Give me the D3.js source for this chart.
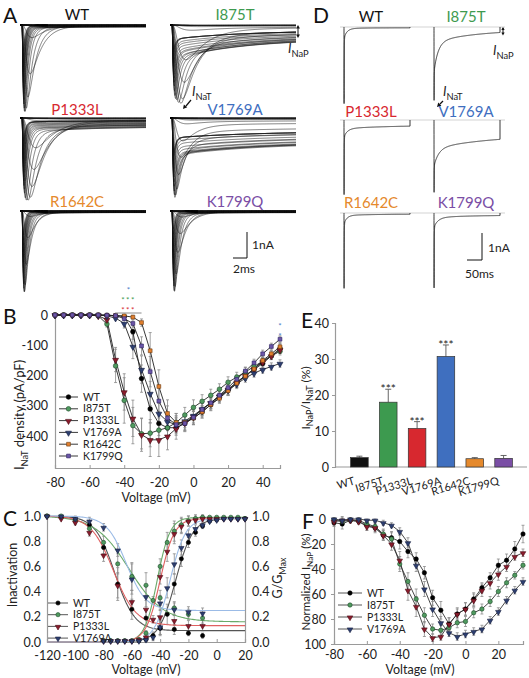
<!DOCTYPE html>
<html>
<head>
<meta charset="utf-8">
<script src="https://cdn.jsdelivr.net/npm/d3@7/dist/d3.min.js"></script>
<style>
body{margin:0;background:#fff;}
svg text{font-family:"Lato","Open Sans",sans-serif;}
</style>
</head>
<body>
<svg id="fig" width="529" height="678" xmlns="http://www.w3.org/2000/svg"></svg>
<script>
// ================= DATA =================
const mutants = ["WT","I875T","P1333L","V1769A","R1642C","K1799Q"];

// ---- Panel B : I_NaT density (pA/pF) vs voltage ----
const voltagesB = [-80,-75,-70,-65,-60,-55,-50,-45,-40,-35,-30,-25,-20,-15,-10,-5,0,5,10,15,20,25,30,35,40,45,50];
const densWT     = [0,0,0,0,0,0,-1,-2,-5,-55,-210,-310,-358,-372,-372,-358,-340,-320,-296,-272,-248,-222,-200,-180,-160,-135,-110];
const densI875T  = [0,0,0,0,0,-3,-30,-168,-282,-365,-392,-390,-380,-372,-355,-330,-305,-285,-265,-245,-222,-205,-188,-170,-152,-135,-120];
const densP1333L = [0,0,0,0,0,-3,-15,-147,-254,-341,-395,-412,-412,-400,-375,-355,-335,-312,-290,-268,-245,-222,-200,-178,-155,-135,-115];
const densV1769A = [0,0,0,0,0,0,-3,-10,-28,-104,-180,-259,-325,-352,-362,-350,-332,-310,-290,-268,-248,-228,-208,-192,-180,-170,-160];
const densR1642C = [0,0,0,0,0,0,-1,-2,-3,-7,-25,-118,-236,-325,-355,-355,-340,-320,-296,-275,-250,-225,-202,-178,-150,-128,-105];
const densK1799Q = [0,0,0,0,0,0,-1,-2,-12,-28,-102,-187,-284,-340,-362,-358,-338,-312,-290,-265,-240,-212,-185,-158,-128,-104,-80];
const semWT      = [2,2,2,2,2,2,2,3,6,25,45,45,40,30,25,22,22,20,20,18,18,16,15,14,13,12,12];
const semI875T   = [2,2,2,2,2,3,10,55,75,60,50,45,40,35,30,25,25,22,20,18,18,16,15,14,13,12,12];
const semP1333L  = [2,2,2,2,2,3,8,40,60,60,55,55,55,45,35,30,25,22,20,18,18,16,15,14,13,12,12];
const semV1769A  = [2,2,2,2,2,2,3,6,15,40,45,40,35,30,25,22,22,20,18,18,16,15,14,13,12,12,12];
const semR1642C  = [2,2,2,2,2,2,2,3,4,6,12,60,55,45,30,25,22,20,18,16,15,14,13,12,12,11,11];
const semK1799Q  = [2,2,2,2,2,2,2,3,6,12,30,50,50,40,30,25,22,20,18,16,15,14,13,12,12,11,11];
const ticksBx = [-80,-60,-40,-20,0,20,40];
const ticksBy = [0,-100,-200,-300,-400];

// ---- Panel C : steady-state inactivation and activation ----
const inactV = [-120,-110,-100,-90,-80,-70,-60,-50,-40,-30,-20,-10];
const inactWT     = [1.0,0.99,0.97,0.93,0.75,0.46,0.26,0.19,0.11,0.10,0.07,0.05];
const inactI875T  = [1.0,1.0,0.96,0.90,0.79,0.62,0.52,0.45,0.35,0.27,0.22,0.19];
const inactP1333L = [1.0,0.98,0.95,0.87,0.69,0.45,0.32,0.26,0.20,0.17,0.13,0.13];
const inactV1769A = [1.0,1.0,0.98,0.96,0.91,0.73,0.50,0.36,0.31,0.26,0.24,0.23];
const inactSemWT     = [0,0.01,0.02,0.03,0.05,0.13,0.08,0.06,0.05,0.04,0.02,0.02];
const inactSemI875T  = [0,0.01,0.02,0.03,0.05,0.08,0.11,0.10,0.06,0.05,0.04,0.04];
const inactSemP1333L = [0,0.01,0.02,0.03,0.05,0.10,0.09,0.07,0.06,0.04,0.04,0.04];
const inactSemV1769A = [0,0.01,0.02,0.03,0.03,0.05,0.12,0.08,0.06,0.05,0.04,0.04];
const actV = [-80,-75,-70,-65,-60,-55,-50,-45,-40,-35,-30,-25,-20,-15,-10,-5,0,5,10,15,20];
const actWT     = [0.01,0.01,0.01,0.01,0.01,0.01,0.02,0.05,0.11,0.22,0.46,0.66,0.79,0.87,0.92,0.96,0.97,0.98,0.98,0.98,0.98];
const actI875T  = [0.01,0.01,0.01,0.01,0.01,0.02,0.07,0.33,0.60,0.79,0.88,0.93,0.96,0.98,0.99,0.99,0.99,0.99,0.99,0.99,0.98];
const actP1333L = [0.01,0.01,0.01,0.01,0.01,0.02,0.04,0.18,0.52,0.72,0.86,0.92,0.96,0.97,0.98,0.98,0.98,0.98,0.98,0.98,0.98];
const actV1769A = [0.01,0.01,0.01,0.01,0.01,0.01,0.02,0.04,0.12,0.43,0.62,0.75,0.85,0.90,0.93,0.96,0.97,0.98,0.98,0.98,0.98];
const actSem    = [0,0,0,0,0,0.01,0.02,0.03,0.06,0.08,0.08,0.06,0.04,0.03,0.02,0.01,0.01,0.01,0.01,0.01,0.01];
// Boltzmann fit parameters (WT, I875T, P1333L, V1769A)
const inactFitVhalf = [-72,-62,-73,-64];
const inactFitSlope = [7,12,8,7];
const inactFitPlateau = [0.09,0.16,0.13,0.25];
const actFitVhalf = [-29,-42,-40,-33];
const actFitSlope = [6,4.5,5,5.5];
const actFitTop = [0.98,0.99,0.98,0.98];
const ticksCx = [-120,-100,-80,-60,-40,-20,0,20];
const ticksCy = [0,0.2,0.4,0.6,0.8,1.0];

// ---- Panel E : I_NaP / I_NaT (%) ----
const ratioE = [2.6,18.0,10.7,30.7,2.3,2.4];
const semE   = [0.4,3.6,1.9,3.2,0.3,0.8];
const sigE   = ["","***","***","***","",""];
const ticksEy = [0,10,20,30,40];

// ---- Panel F : normalized I_NaP (%) vs voltage ----
const voltagesF = [-80,-75,-70,-65,-60,-55,-50,-45,-40,-35,-30,-25,-20,-15,-10,-5,0,5,10,15,20,25,30,35];
const fWT     = [3,4,1,2,5,7,13,15,18,26,32,43,63,73,84,76,72,64,55,47,37,33,24,12];
const fI875T  = [1,2,1,1,4,6,12,16,36,50,64,77,88,89,87,83,82,75,72,66,58,51,45,37];
const fP1333L = [2,1,1,2,6,7,13,20,33,57,70,88,95,94,84,76,72,65,57,51,44,38,30,27];
const fV1769A = [0,1,0,0,1,1,3,5,10,19,37,56,72,83,91,94,92,90,88,81,74,65,57,50];
const fSemWT     = [3,4,2,2,4,4,4,5,6,5,5,5,6,7,5,4,5,5,4,4,5,5,6,7];
const fSemI875T  = [2,3,2,2,3,3,4,5,6,7,8,6,4,4,4,4,4,4,4,4,4,4,3,3];
const fSemP1333L = [3,3,2,2,3,3,4,5,7,8,8,6,3,3,5,5,5,5,5,5,5,4,3,3];
const fSemV1769A = [1,1,1,1,1,1,2,2,3,4,5,6,6,5,3,3,3,3,3,3,3,3,3,3];
const ticksFx = [-80,-60,-40,-20,0,20];
const ticksFy = [0,20,40,60,80,100];

// ---- Panel A : current families (kinetic parameters per test voltage of panel B) ----
const cellCapPF = [9.0,8.4,8.0,9.2,8.8,8.6];
const tauMms = [1,1,1,1,1,1,0.9,0.8,0.7,0.6,0.5,0.35,0.25,0.18,0.14,0.12,0.10,0.09,0.085,0.08,0.075,0.07,0.068,0.065,0.062,0.06,0.058];
const tauHms = [3.5,3.5,3.5,3.5,3.5,3.5,3.0,2.6,2.2,1.8,1.5,1.1,0.8,0.6,0.5,0.45,0.4,0.38,0.36,0.34,0.32,0.31,0.3,0.29,0.28,0.27,0.26];
const aSlowGain = [0.6,1.5,0.6,0.5,0.6,0.6];
const aSlowTau  = [6,10,10,12,6,6];

// ---- Panel D : single long sweeps (nA, ms) ----
const dPeak    = [2.9,2.9,2.85,2.85,2.85,2.85];
const dFastAmp = [0.35,1.1,0.3,0.65,0.3,0.35];
const dFastTau = [10,14,12,16,10,14];
const dSlowAmp = [0.03,0.45,0.12,0.5,0.05,0.09];
const dSlowTau = [60,150,150,200,100,120];
const dPersist = [0.03,0.10,0.20,0.55,0.04,0.08];

// ================= STYLE =================
const titleColor = {WT:"#111", I875T:"#3d9a4f", P1333L:"#d7282f", V1769A:"#3f6fbf", R1642C:"#e5892c", K1799Q:"#7a4ea5"};
const markerStyle = {
  WT:     {shape:"circle", fill:"#000",    stroke:"#000"},
  I875T:  {shape:"circle", fill:"#4f9a5f", stroke:"#1f4a2a"},
  P1333L: {shape:"tri",    fill:"#8a1c2c", stroke:"#4a0a14"},
  V1769A: {shape:"tri",    fill:"#2d3f70", stroke:"#151f40"},
  R1642C: {shape:"square", fill:"#e27f2e", stroke:"#6a3a10"},
  K1799Q: {shape:"square", fill:"#6b56a8", stroke:"#2a2060"}
};
const barColor = ["#111","#3d9a4f","#d7282f","#3f6fbf","#e5892c","#7a4ea5"];
const fitColor = ["#555","#6aaa6a","#e06060","#9bbbe6"];
const axisColor = "#9a9a9a", errColor = "#8a8a8a";

const svg = d3.select("#fig");
const fmtInt = d => String(d);
const fmt1 = d => d.toFixed(1);

function marker(g, name, x, y, s) {
  const st = markerStyle[name];
  const size = s || 18;
  let p;
  if (st.shape === "circle") p = g.append("circle").attr("cx", x).attr("cy", y).attr("r", Math.sqrt(size/Math.PI));
  else if (st.shape === "square") p = g.append("path").attr("d", d3.symbol(d3.symbolSquare, size*0.85)()).attr("transform", `translate(${x},${y})`);
  else p = g.append("path").attr("d", d3.symbol(d3.symbolTriangle, size*0.9)()).attr("transform", `translate(${x},${y+0.5}) rotate(180)`);
  p.attr("fill", st.fill).attr("stroke", st.stroke).attr("stroke-width", 0.6);
}
function styleAxis(sel, fs) {
  sel.select(".domain").attr("stroke", axisColor).attr("stroke-width", 1.2);
  sel.selectAll(".tick line").attr("stroke", axisColor).attr("stroke-width", 1);
  sel.selectAll(".tick text").attr("fill", "#222").attr("font-size", fs || 12).attr("font-family", "Lato, 'Open Sans', sans-serif");
}
function errBar(g, x, y1, y2, cap) {
  g.append("line").attr("x1", x).attr("x2", x).attr("y1", y1).attr("y2", y2).attr("stroke", errColor).attr("stroke-width", 0.8);
  [y1, y2].forEach(y => g.append("line").attr("x1", x-cap).attr("x2", x+cap).attr("y1", y).attr("y2", y).attr("stroke", errColor).attr("stroke-width", 0.8));
}
function panelLetter(t, x, y) {
  svg.append("text").attr("x", x).attr("y", y).attr("font-size", 21).attr("fill", "#111").text(t);
}
function subText(g, x, y, main, sub, rest, fs, opts) {
  const t = g.append("text").attr("x", x).attr("y", y).attr("font-size", fs).attr("fill", "#222");
  if (opts && opts.transform) t.attr("transform", opts.transform).attr("x", 0).attr("y", 0);
  if (opts && opts.anchor) t.attr("text-anchor", opts.anchor);
  t.append("tspan").text(main).attr("font-style", opts && opts.italic ? "italic" : null);
  t.append("tspan").text(sub).attr("font-size", fs*0.72).attr("dy", fs*0.28);
  if (rest) t.append("tspan").text(rest).attr("dy", -fs*0.28);
  return t;
}
function arrowHead(g, x, y, ang, sz) {
  const s = sz || 4;
  g.append("path").attr("d", `M0,0 L${-s},${-s*0.55} L${-s},${s*0.55} Z`)
    .attr("transform", `translate(${x},${y}) rotate(${ang})`).attr("fill", "#111");
}
// stacked significance marks drawn as one text element with coloured lines
function starStack(g, x, yTop, lines, step, fs) {
  const t = g.append("text").attr("x", x).attr("y", yTop).attr("text-anchor", "middle").attr("font-size", fs);
  lines.forEach((l, i) => t.append("tspan").attr("x", x).attr("dy", i === 0 ? 0 : step)
    .attr("fill", l.color).attr("letter-spacing", l.text.length > 1 ? 1.5 : 0).text(l.text));
}

// ================= PANEL A =================
panelLetter("A", 3, 23);
const gA = svg.append("g");
const seriesDens = [densWT, densI875T, densP1333L, densV1769A, densR1642C, densK1799Q];
const seriesF = [fWT, fI875T, fP1333L, fV1769A, fWT, fWT];
const tOn = 0.3;
const timesA = d3.range(0, 4, 0.02).concat(d3.range(4, 18.001, 0.1));
const aCols = [20, 170], aRows = [25, 118, 211];
const aTitleX = [77, 235], aTitleY = [20, 115, 207];
mutants.forEach((m, mi) => {
  const x0 = aCols[mi % 2], y0 = aRows[Math.floor(mi / 2)];
  const xA = d3.scaleLinear().domain([0, 18]).range([x0, x0 + 126]);
  const yA = d3.scaleLinear().domain([0, -1]).range([y0, y0 + 26]);
  const dens = seriesDens[mi];
  const maxAmp = d3.max(dens, d => -d) * cellCapPF[mi] / 1000;
  const line = d3.line().x(d => xA(d[0])).y(d => yA(d[1]));
  voltagesB.forEach((v, vi) => {
    const amp = -dens[vi] * cellCapPF[mi] / 1000;
    const fi = Math.min(voltagesF.indexOf(Math.min(v, 35)), voltagesF.length - 1);
    const fFrac = seriesF[mi][fi] / 100;
    const ip = Math.min(ratioE[mi] / 100 * maxAmp * fFrac, amp * 0.9 + 0.01);
    const is = ip * aSlowGain[mi];
    const trans = Math.max(amp - ip - is, 0);
    const tm = tauMms[vi], th = tauHms[vi];
    const gate = tt => tt <= 0 ? 0 : Math.pow(1 - Math.exp(-tt / tm), 3);
    const norm = d3.max(timesA, t => gate(t - tOn) * Math.exp(-(t - tOn) / th)) || 1;
    const pts = timesA.map(t => {
      const tt = t - tOn;
      if (tt <= 0) return [t, 0];
      const mg = gate(tt);
      return [t, -(trans * mg * Math.exp(-tt / th) / norm + mg * (is * Math.exp(-tt / aSlowTau[mi]) + ip))];
    });
    gA.append("path").attr("d", line(pts)).attr("fill", "none").attr("stroke", "#111").attr("stroke-width", 0.6).attr("stroke-opacity", 0.9);
  });
  svg.append("text").attr("x", aTitleX[mi % 2]).attr("y", aTitleY[Math.floor(mi / 2)]).attr("text-anchor", "middle")
    .attr("font-size", 15).attr("fill", titleColor[m]).text(m);
  if (mi === 5) {
    const xs = d3.scaleLinear().domain([0, 18]).range([0, 126]);
    const ys = d3.scaleLinear().domain([0, 1]).range([0, 26]);
    const bx = 247, by = 258;
    gA.append("path").attr("d", `M${bx - xs(2)},${by} H${bx} V${by - ys(1)}`).attr("fill", "none").attr("stroke", "#111").attr("stroke-width", 1);
    gA.append("text").attr("x", bx + 5).attr("y", by - 9).attr("font-size", 12).attr("fill", "#222").text("1nA");
    gA.append("text").attr("x", bx - xs(2)).attr("y", by + 15).attr("font-size", 12).attr("fill", "#222").text("2ms");
  }
});
// annotations in A
subText(gA, 192, 96, "I", "NaT", null, 13, {italic: true});
gA.append("line").attr("x1", 191).attr("y1", 100).attr("x2", 186).attr("y2", 106).attr("stroke", "#111").attr("stroke-width", 1.2);
arrowHead(gA, 183, 109, 130, 4);
gA.append("line").attr("x1", 298).attr("x2", 298).attr("y1", 27).attr("y2", 36).attr("stroke", "#111").attr("stroke-width", 1);
arrowHead(gA, 298, 25, -90, 3.5); arrowHead(gA, 298, 38, 90, 3.5);
subText(gA, 288, 53, "I", "NaP", null, 13, {italic: true});

// ================= PANEL D =================
panelLetter("D", 313, 23);
const gD = svg.append("g");
const timesD = d3.range(0, 3, 0.01).concat(d3.range(3, 220, 0.5)).concat([220]);
const dCols = [344, 434], dRows = [27, 120, 213];
const dTitleX = [371, 466], dTitleY = [22, 117, 208];
dRows.forEach(y0 => gD.append("line").attr("x1", 340).attr("x2", 505).attr("y1", y0).attr("y2", y0).attr("stroke", "#c8c8c8").attr("stroke-width", 0.8));
mutants.forEach((m, mi) => {
  const x0 = dCols[mi % 2], y0 = dRows[Math.floor(mi / 2)];
  const xD = d3.scaleLinear().domain([0, 220]).range([x0, x0 + 66]);
  const yD = d3.scaleLinear().domain([0, -1]).range([y0, y0 + 27]);
  const tm = 0.08, th = 0.5;
  const gate = t => Math.pow(1 - Math.exp(-t / tm), 3);
  const norm = d3.max(timesD, t => gate(t) * Math.exp(-t / th));
  const trans = dPeak[mi] - dFastAmp[mi] - dSlowAmp[mi] - dPersist[mi];
  const pts = timesD.map(t => {
    const g = gate(t);
    return [t, -(trans * g * Math.exp(-t / th) / norm + g * (dFastAmp[mi] * Math.exp(-t / dFastTau[mi]) + dSlowAmp[mi] * Math.exp(-t / dSlowTau[mi]) + dPersist[mi]))];
  });
  pts.push([220, 0]);
  gD.append("path").attr("d", d3.line().x(d => xD(d[0])).y(d => yD(d[1]))(pts)).attr("fill", "none").attr("stroke", "#222").attr("stroke-width", 0.9);
  svg.append("text").attr("x", dTitleX[mi % 2]).attr("y", dTitleY[Math.floor(mi / 2)]).attr("text-anchor", "middle")
    .attr("font-size", 15).attr("fill", titleColor[m]).text(m);
  if (mi === 5) {
    const xs = d3.scaleLinear().domain([0, 220]).range([0, 66]);
    const ys = d3.scaleLinear().domain([0, 1]).range([0, 27]);
    const bx = 482, by = 260;
    gD.append("path").attr("d", `M${bx - xs(50)},${by} H${bx} V${by - ys(1)}`).attr("fill", "none").attr("stroke", "#111").attr("stroke-width", 1);
    gD.append("text").attr("x", bx + 6).attr("y", by - 8).attr("font-size", 12).attr("fill", "#222").text("1nA");
    gD.append("text").attr("x", bx - xs(50) - 2).attr("y", by + 18).attr("font-size", 12).attr("fill", "#222").text("50ms");
  }
});
subText(gD, 443, 96, "I", "NaT", null, 13, {italic: true});
gD.append("line").attr("x1", 443).attr("y1", 101).attr("x2", 440).attr("y2", 104).attr("stroke", "#111").attr("stroke-width", 1.2);
arrowHead(gD, 437, 107, 135, 4);
gD.append("line").attr("x1", 503).attr("x2", 503).attr("y1", 28).attr("y2", 34).attr("stroke", "#111").attr("stroke-width", 1);
arrowHead(gD, 503, 27, -90, 3); arrowHead(gD, 503, 35.5, 90, 3);
subText(gD, 493, 55, "I", "NaP", null, 13, {italic: true});

// ================= PANEL B =================
panelLetter("B", 3, 324);
const gB = svg.append("g");
const xB = d3.scaleLinear().domain([-80, 50]).range([55, 280]);
const yB = d3.scaleLinear().domain([-505, 0]).range([468, 315]);
gB.append("g").attr("transform", "translate(0,468)")
  .call(d3.axisBottom(xB).tickValues(ticksBx).tickSize(-3).tickPadding(10.5).tickFormat(fmtInt))
  .call(s => styleAxis(s, 12.5));
gB.append("g").attr("transform", "translate(55,0)")
  .call(d3.axisLeft(yB).tickValues(ticksBy).tickSize(0).tickPadding(7).tickFormat(fmtInt))
  .call(s => styleAxis(s, 12.5));
gB.append("text").attr("x", 156).attr("y", 502).attr("text-anchor", "middle").attr("font-size", 12.5).attr("fill", "#222").text("Voltage (mV)");
subText(gB, 0, 0, "I", "NaT", " density (pA/pF)", 13, {transform: "translate(24,415) rotate(-90)", anchor: "middle"});
const seriesB = mutants.map((m, i) => ({name: m, vals: seriesDens[i], sem: [semWT, semI875T, semP1333L, semV1769A, semR1642C, semK1799Q][i]}));
seriesB.forEach(s => s.vals.forEach((v, i) => { if (s.sem[i] > 3) errBar(gB, xB(voltagesB[i]), yB(v - s.sem[i]), yB(v + s.sem[i]), 1.5); }));
seriesB.forEach(s => {
  gB.append("path").attr("d", d3.line().x((d, i) => xB(voltagesB[i])).y(d => yB(d))(s.vals))
    .attr("fill", "none").attr("stroke", "#222").attr("stroke-width", 0.9);
});
seriesB.forEach(s => s.vals.forEach((v, i) => marker(gB, s.name, xB(voltagesB[i]), yB(v), 17)));
// significance
gB.append("line").attr("x1", xB(-45)).attr("x2", xB(-30)).attr("y1", 313).attr("y2", 313).attr("stroke", "#8a8a8a").attr("stroke-width", 1);
starStack(gB, xB(-37.5), 293, [{text:"*", color:"#4a7cc8"}, {text:"***", color:"#3d9a4f"}, {text:"***", color:"#d7282f"}], 10, 8);
starStack(gB, xB(50), 329, [{text:"*", color:"#4a7cc8"}, {text:"*", color:"#4a7cc8"}], 10, 8);
// legend
mutants.forEach((m, i) => {
  const y = 397 + i * 11.8;
  gB.append("line").attr("x1", 59).attr("x2", 78).attr("y1", y).attr("y2", y).attr("stroke", "#222").attr("stroke-width", 0.9);
  marker(gB, m, 68.5, y, 17);
  gB.append("text").attr("x", 83).attr("y", y).attr("dy", "0.35em").attr("font-size", 10.5).attr("fill", "#222").text(m);
});

// ================= PANEL C =================
panelLetter("C", 3, 526);
const gC = svg.append("g");
const xC = d3.scaleLinear().domain([-120, 20]).range([47, 245]);
const yC = d3.scaleLinear().domain([0, 1]).range([642, 516]);
gC.append("g").attr("transform", "translate(0,642)")
  .call(d3.axisBottom(xC).tickValues(ticksCx).tickSize(-3).tickPadding(9).tickFormat(fmtInt))
  .call(s => styleAxis(s, 12.5));
gC.append("g").attr("transform", "translate(47,0)")
  .call(d3.axisLeft(yC).tickValues(ticksCy).tickSize(0).tickPadding(6).tickFormat(fmt1))
  .call(s => styleAxis(s, 12.5));
gC.append("g").attr("transform", "translate(245,0)")
  .call(d3.axisRight(yC).tickValues(ticksCy).tickSize(0).tickPadding(7).tickFormat(fmt1))
  .call(s => styleAxis(s, 12.5));
gC.append("text").attr("x", 146).attr("y", 674).attr("text-anchor", "middle").attr("font-size", 12.5).attr("fill", "#222").text("Voltage (mV)");
gC.append("text").attr("transform", "translate(17,575) rotate(-90)").attr("text-anchor", "middle").attr("font-size", 12.5).attr("fill", "#222").text("Inactivation");
subText(gC, 0, 0, "G/G", "Max", null, 12.5, {transform: "translate(282,578) rotate(-90)", anchor: "middle"});
const cNames = ["WT", "I875T", "P1333L", "V1769A"];
const inactSeries = [inactWT, inactI875T, inactP1333L, inactV1769A];
const inactSems = [inactSemWT, inactSemI875T, inactSemP1333L, inactSemV1769A];
const actSeries = [actWT, actI875T, actP1333L, actV1769A];
const fitGrid = d3.range(-120, 20.5, 1);
cNames.forEach((m, i) => {
  inactSeries[i].forEach((v, j) => { if (inactSems[i][j] > 0.015) errBar(gC, xC(inactV[j]), yC(v - inactSems[i][j]), yC(v + inactSems[i][j]), 1.5); });
  actSeries[i].forEach((v, j) => { if (actSem[j] > 0.015) errBar(gC, xC(actV[j]), yC(v - actSem[j]), yC(v + actSem[j]), 1.5); });
});
cNames.forEach((m, i) => {
  const inactFit = v => inactFitPlateau[i] + (1 - inactFitPlateau[i]) / (1 + Math.exp((v - inactFitVhalf[i]) / inactFitSlope[i]));
  const actFit = v => actFitTop[i] / (1 + Math.exp((actFitVhalf[i] - v) / actFitSlope[i]));
  gC.append("path").attr("d", d3.line().x(v => xC(v)).y(v => yC(inactFit(v)))(fitGrid)).attr("fill", "none").attr("stroke", fitColor[i]).attr("stroke-width", 1.1);
  gC.append("path").attr("d", d3.line().x(v => xC(v)).y(v => yC(actFit(v)))(fitGrid)).attr("fill", "none").attr("stroke", fitColor[i]).attr("stroke-width", 1.1);
});
cNames.forEach((m, i) => {
  inactSeries[i].forEach((v, j) => marker(gC, m, xC(inactV[j]), yC(v), 14));
  actSeries[i].forEach((v, j) => marker(gC, m, xC(actV[j]), yC(v), 14));
});
cNames.forEach((m, i) => {
  const y = 603 + i * 11.7;
  gC.append("line").attr("x1", 48).attr("x2", 68).attr("y1", y).attr("y2", y).attr("stroke", "#444").attr("stroke-width", 0.9);
  marker(gC, m, 58, y, 14);
  gC.append("text").attr("x", 73).attr("y", y).attr("dy", "0.35em").attr("font-size", 10.5).attr("fill", "#222").text(m);
});

// ================= PANEL E =================
panelLetter("E", 301, 328);
const gE = svg.append("g");
const xE = d3.scaleBand().domain(mutants).range([345, 518]).paddingInner(0.39).paddingOuter(0.195);
const yE = d3.scaleLinear().domain([0, 40]).range([467, 323]);
gE.append("g").attr("transform", "translate(335,0)")
  .call(d3.axisLeft(yE).tickValues(ticksEy).tickSize(3).tickPadding(3).tickFormat(fmtInt))
  .call(s => styleAxis(s, 12.5));
gE.append("line").attr("x1", 335).attr("x2", 527).attr("y1", 467).attr("y2", 467).attr("stroke", axisColor).attr("stroke-width", 1.2);
(function(){
  const t = gE.append("text").attr("transform", "translate(310,398) rotate(-90)").attr("text-anchor", "middle").attr("font-size", 12).attr("fill", "#222");
  t.append("tspan").text("I");
  t.append("tspan").text("NaP").attr("font-size", 9).attr("dy", 3.3);
  t.append("tspan").text("/I").attr("dy", -3.3);
  t.append("tspan").text("NaT").attr("font-size", 9).attr("dy", 3.3);
  t.append("tspan").text(" (%)").attr("dy", -3.3);
})();
mutants.forEach((m, i) => {
  const x = xE(m), w = xE.bandwidth(), cx = x + w / 2;
  const top = yE(ratioE[i] + semE[i]);
  gE.append("line").attr("x1", cx).attr("x2", cx).attr("y1", yE(ratioE[i])).attr("y2", top).attr("stroke", "#555").attr("stroke-width", 0.9);
  gE.append("line").attr("x1", cx - 3).attr("x2", cx + 3).attr("y1", top).attr("y2", top).attr("stroke", "#555").attr("stroke-width", 0.9);
  gE.append("rect").attr("x", x).attr("y", yE(ratioE[i])).attr("width", w).attr("height", yE(0) - yE(ratioE[i]))
    .attr("fill", barColor[i]).attr("stroke", "#333").attr("stroke-width", 0.7);
  if (sigE[i]) gE.append("text").attr("x", cx).attr("y", top + 4).attr("text-anchor", "middle").attr("font-size", 12).attr("fill", "#222").text(sigE[i]);
  gE.append("text").attr("transform", `translate(${cx - 4},484) rotate(-17)`).attr("text-anchor", "end").attr("font-size", 11).attr("fill", "#222").text(m);
});

// ================= PANEL F =================
panelLetter("F", 302, 529);
const gF = svg.append("g");
const xF = d3.scaleLinear().domain([-80, 35]).range([334, 523]);
const yF = d3.scaleLinear().domain([0, 100]).range([519, 644]);
gF.append("g").attr("transform", "translate(0,644)")
  .call(d3.axisBottom(xF).tickValues(ticksFx).tickSize(-3).tickPadding(6).tickFormat(fmtInt))
  .call(s => styleAxis(s, 12.5));
gF.append("g").attr("transform", "translate(334,0)")
  .call(d3.axisLeft(yF).tickValues(ticksFy).tickSize(3).tickPadding(5).tickFormat(fmtInt))
  .call(s => styleAxis(s, 12.5));
gF.append("text").attr("x", 420).attr("y", 674).attr("text-anchor", "middle").attr("font-size", 12.5).attr("fill", "#222").text("Voltage (mV)");
subText(gF, 0, 0, "Normalized I", "NaP", " (%)", 11.5, {transform: "translate(310,582) rotate(-90)", anchor: "middle"});
const fSeries = [fWT, fI875T, fP1333L, fV1769A];
const fSems = [fSemWT, fSemI875T, fSemP1333L, fSemV1769A];
cNames.forEach((m, i) => fSeries[i].forEach((v, j) => errBar(gF, xF(voltagesF[j]), yF(Math.max(v - fSems[i][j], -2)), yF(v + fSems[i][j]), 1.5)));
cNames.forEach((m, i) => gF.append("path").attr("d", d3.line().x((d, j) => xF(voltagesF[j])).y(d => yF(d))(fSeries[i]))
  .attr("fill", "none").attr("stroke", "#333").attr("stroke-width", 0.9));
cNames.forEach((m, i) => fSeries[i].forEach((v, j) => marker(gF, m, xF(voltagesF[j]), yF(v), 15)));
cNames.forEach((m, i) => {
  const y = 593 + i * 12;
  gF.append("line").attr("x1", 338).attr("x2", 362).attr("y1", y).attr("y2", y).attr("stroke", "#444").attr("stroke-width", 0.9);
  marker(gF, m, 350, y, 15);
  gF.append("text").attr("x", 367).attr("y", y).attr("dy", "0.35em").attr("font-size", 10.5).attr("fill", "#222").text(m);
});
</script>
</body>
</html>
